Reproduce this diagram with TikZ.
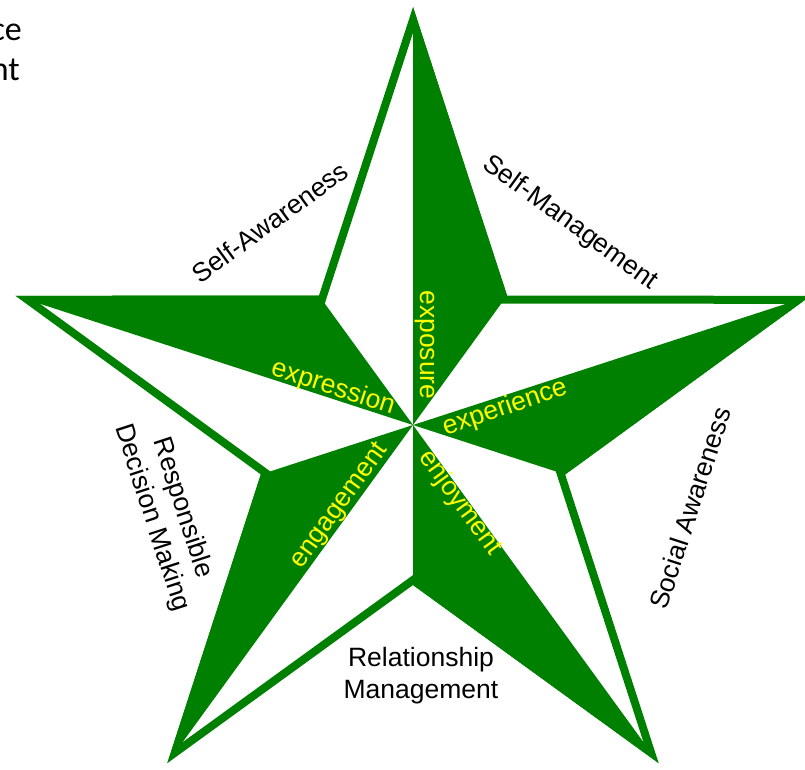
\documentclass[tikz,border=0pt]{standalone}
\usepackage{fontspec}
\setmainfont{Liberation Sans}
\newfontfamily\calib{Carlito}
\usetikzlibrary{calc}
\definecolor{stargreen}{RGB}{0,128,0}
\definecolor{wordyellow}{RGB}{255,255,0}
\newcommand{\labfont}{\fontsize{26.5}{32}\selectfont}

\begin{document}
\begin{tikzpicture}[x=1pt,y=-1pt,
  lbl/.style={font=\labfont, text=black, align=center, inner sep=0pt},
  word/.style={font=\labfont, text=wordyellow, inner sep=0pt},
  arm/.style={fill=stargreen, draw=none},
  cut/.style={font=\calib\fontsize{34}{40}\selectfont, anchor=base east, inner sep=0pt}]
  \useasboundingbox (0,0) rectangle (805,769);

  \coordinate (C) at (413,425);
  \foreach \i in {0,...,4} {
    \coordinate (T\i) at ($(C)+({90-72*\i}:418pt)$);
    \coordinate (I\i) at ($(C)+({54-72*\i}:160pt)$);
  }

  % green halves of the arms
  \fill[arm] (T0) -- (C) -- (I0) -- cycle;
  \fill[arm] (T1) -- (C) -- (I1) -- cycle;
  \fill[arm] (T2) -- (C) -- (I2) -- cycle;
  \fill[arm] (T3) -- (C) -- (I3) -- cycle;
  \fill[arm] (T4) -- (C) -- (I4) -- cycle;

  % outline of the star, kept inside
  \begin{scope}
    \clip (T0) -- (I0) -- (T1) -- (I1) -- (T2) -- (I2) -- (T3) -- (I3) -- (T4) -- (I4) -- cycle;
    \draw[stargreen, line width=16pt, line join=miter]
      (T0) -- (I0) -- (T1) -- (I1) -- (T2) -- (I2) -- (T3) -- (I3) -- (T4) -- (I4) -- cycle;
  \end{scope}

  \node[word, rotate=-90] (exposure) at (425,345) {exposure};
  \node[word, rotate=-18] (expression) at (333,388) {expression};
  \node[word, rotate=19] (experience) at (505,408) {experience};
  \node[word, rotate=54] (engagement) at (340,506) {engagement};
  \node[word, rotate=-54] (enjoyment) at (460,503) {enjoyment};

  \node[lbl, rotate=36] (selfaw) at (270,222) {Self-Awareness};
  \node[lbl, rotate=-36] (selfman) at (570,223) {Self-Management};
  \node[lbl, rotate=72] (social) at (690,508) {Social Awareness};
  \node[lbl, rotate=-72] (decision) at (167,513) {Responsible\\Decision Making};
  \node[lbl] (relation) at (421,676) {Relationship\\Management};

  \node[cut] (ce) at (22,40) {ce};
  \node[cut] (nt) at (20,80) {nt};
\end{tikzpicture}
\end{document}
